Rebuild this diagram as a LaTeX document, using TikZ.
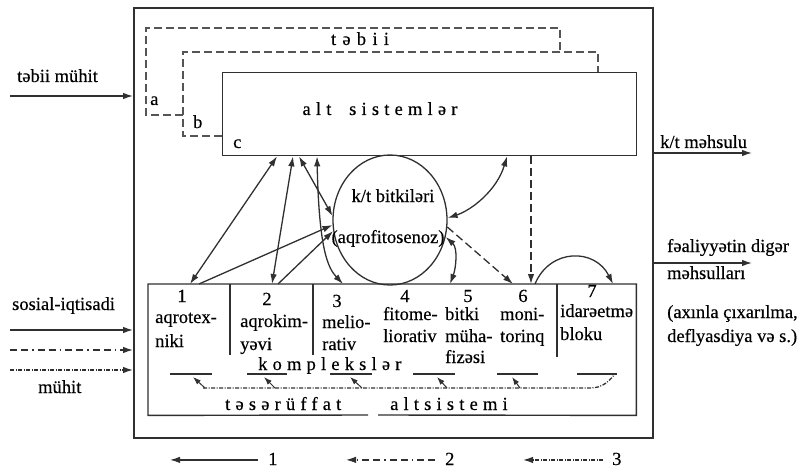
\documentclass[tikz,border=0pt]{standalone}
\usepackage{fontspec}
\setmainfont[FakeBold=0.35]{Liberation Serif}
\newfontfamily\spaced[LetterSpace=28,FakeBold=0.35]{Liberation Serif}
\newfontfamily\spacedwide[LetterSpace=34,FakeBold=0.35]{Liberation Serif}
\usetikzlibrary{arrows.meta,shapes.geometric}
\definecolor{ink}{HTML}{303030}
\definecolor{frame}{HTML}{555555}
\begin{document}
\begin{tikzpicture}[x=1pt,y=-1pt,
  font=\fontsize{18.5}{22}\selectfont,
  >={Latex[length=10pt,width=6.5pt]},
  ln/.style={draw=ink,line width=1.3pt},
  dsh/.style={ln,dash pattern=on 8pt off 4pt},
  frm/.style={draw=frame,line width=1.4pt,dash pattern=on 8pt off 4pt},
  ddtwo/.style={ln,dash pattern=on 7pt off 4pt on 7pt off 4pt on 1.5pt off 4pt},
  ddthree/.style={ln,dash pattern=on 4pt off 1.5pt on 1pt off 1.5pt},
  txt/.style={inner sep=0pt,text=black,anchor=base west},
  ctxt/.style={inner sep=0pt,text=black,anchor=base},
  box/.style={inner sep=0pt,anchor=north west}]
\useasboundingbox (0,0) rectangle (798,468);

% main frame and subsystem blocks
\node[box,draw=ink,line width=2.2pt,minimum width=519pt,minimum height=430pt] (outer) at (133,7) {};
\node[box,draw=ink,line width=1.4pt,minimum width=414pt,minimum height=83pt] (alt) at (222,72) {};
\node[box,minimum width=488pt,minimum height=131pt] (bot) at (148,284) {};
\draw[ink,line width=1.4pt] (368,415) -- (bot.south west) -- (bot.north west) -- (bot.north east) -- (bot.south east) -- (378,415);
\node[ellipse,draw=ink,line width=1.3pt,minimum width=114pt,minimum height=130pt,inner sep=0pt] (bit) at (390,220) {};

% nested natural frames a and b
\draw[frm] (183,115) -- (146,115) -- (146,28) -- (560,28) -- (560,52);
\draw[frm] (alt.west |- 0,136) -- (183,136) -- (183,52) -- (598,52) -- (598,0 |- alt.north);

\node[ctxt] (tb) at (360,45) {\spacedwide təbii};
\node[txt] (la) at (150,105) {a};
\node[txt] (lb) at (193,128) {b};
\node[txt] (lc) at (233,148) {c};
\node[ctxt] (altt) at (380,115) {\spaced alt\hspace{8pt} sistemlər};

% crop node texts
\node[ctxt] (bt1) at (393,202) {k/t bitkiləri};
\node[ctxt] (bt2) at (388,243) {(aqrofitosenoz)};

% column separators
\draw[ln] (230,0 |- bot.north) -- (230,355);
\draw[ln] (313,0 |- bot.north) -- (313,355);
\draw[ln] (557,0 |- bot.north) -- (557,357);

% column numbers
\foreach \t/\x/\y [count=\i] in {1/182/302,2/267/305,3/337/307,4/405/302,5/468/302,6/523/302,7/592/297}
  \node[ctxt] (num\i) at (\x,\y) {\t};

% column texts
\foreach \t/\x/\y [count=\i] in {aqrotex-/155/323,niki/155/347,aqrokim-/240/327,yəvi/240/350,
  melio-/322/328,rativ/322/350,fitome-/383/320,liorativ/383/342,bitki/445/320,müha-/445/342,
  fizəsi/445/363,moni-/500/320,torinq/500/342,idarəetmə/560/317,bloku/560/340}
  \node[txt] (w\i) at (\x,\y) {\t};

\node[txt] (kom) at (258,370) {\spaced komplekslər};
\node[txt] (tes) at (225,410) {\spaced təsərüffat};
\node[txt] (als) at (390,410) {\spaced altsistemi};

% feedback segments inside the economic subsystem
\foreach \a/\b in {170/212,247/287,330/372,413/455,497/538,577/617}
  \draw[ln] (\a,374) -- (\b,374);
\draw[ddthree] (203,388) -- (590,388) .. controls (603,388) and (609,381) .. (615,374);
\foreach \s/\e in {205/193,275/264,362/350,447/437,520/512}
  \draw[ln,line width=1pt,-{Latex[length=8pt,width=5.5pt]}] (\s,388) -- (\e,377);

% links between the blocks
\draw[ln,<->] (277,0 |- alt.south) -- (190,0 |- bot.north);
\draw[ln,<->] (293,0 |- alt.south) -- (272,0 |- bot.north);
\draw[ln,<->] (299,0 |- alt.south) -- (bit.176);
\draw[ln,<->] (317,0 |- alt.south) .. controls (319,250) and (328,268) .. (343,0 |- bot.north);
\draw[ln,->] (199,0 |- bot.north) -- (bit.185);
\draw[ln,->] (278,0 |- bot.north) -- (bit.191);
\draw[ln,<->] (507,0 |- alt.south) .. controls (497,190) and (472,210) .. (bit.2);
\draw[ln,<->] (bit.343) .. controls (458,248) and (456,268) .. (450,0 |- bot.north);
\draw[dsh,->] (bit.353) -- (513,0 |- bot.north);
\draw[dsh,->] (531,0 |- alt.south) -- (531,0 |- bot.north);
\draw[ln,->] (535,0 |- bot.north) .. controls (550,248) and (595,248) .. (613,0 |- bot.north);

% inputs
\node[txt] (in1) at (17,82) {təbii mühit};
\node[txt] (in2) at (12,310) {sosial-iqtisadi};
\node[txt] (in3) at (38,393) {mühit};
\coordinate (s1) at (10,96);
\coordinate (s2) at (10,330);
\coordinate (s3) at (10,350);
\coordinate (s4) at (10,370);
\draw[ln,->] (s1) -- (outer.west |- s1);
\draw[ln,->] (s2) -- (outer.west |- s2);
\draw[ddtwo,->] (s3) -- (outer.west |- s3);
\draw[ddthree,->] (s4) -- (outer.west |- s4);

% outputs
\node[txt] (out1) at (660,148) {k/t məhsulu};
\node[txt] (out2) at (667,252) {fəaliyyətin digər};
\node[txt] (out3) at (667,279) {məhsulları};
\node[txt] (out4) at (667,318) {(axınla çıxarılma,};
\node[txt] (out5) at (667,342) {deflyasdiya və s.)};
\coordinate (e1) at (752,153);
\coordinate (e2) at (752,263);
\draw[ln,->] (outer.east |- e1) -- (e1);
\draw[ln,->] (outer.east |- e2) -- (e2);

% legend
\node[txt] (lg1) at (268,465) {1};
\node[txt] (lg2) at (445,465) {2};
\node[txt] (lg3) at (612,465) {3};
\draw[ln,->] ([xshift=-10pt,yshift=-1pt]lg1.west) -- ++(-88,0);
\draw[ddtwo,->] ([xshift=-10pt,yshift=-1pt]lg2.west) -- ++(-89,0);
\draw[ddthree,->] ([xshift=-9pt,yshift=-1pt]lg3.west) -- ++(-80,0);
\end{tikzpicture}
\end{document}
